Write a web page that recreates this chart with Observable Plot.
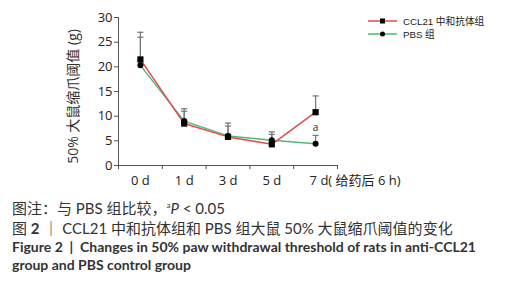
<!DOCTYPE html>
<html><head><meta charset="utf-8">
<script src="https://cdn.jsdelivr.net/npm/d3@7"></script>
<script src="https://cdn.jsdelivr.net/npm/@observablehq/plot@0.6"></script>
<style>
body{margin:0;background:#fff;font-family:"Open Sans","Noto Sans CJK SC",sans-serif;}
#wrap{position:relative;width:506px;height:282px;}
#legend{position:absolute;left:368px;top:14px;font-size:9.7px;color:#222;font-family:"Liberation Sans","Noto Sans CJK SC",sans-serif;}
#legend div{display:flex;align-items:center;height:13px;}
#legend svg{margin-right:6px;}
#cap{position:absolute;left:12px;top:196px;color:#333;font-family:"Lato","Noto Sans CJK SC",sans-serif;white-space:nowrap;}
#cap .c{font-size:15px;line-height:19.5px;}
#cap .b{font-weight:bold;font-size:14px;line-height:17.5px;}
</style></head><body>
<div id="wrap">
<div id="chart"></div>
<div id="legend">
<div><svg width="29" height="8"><line x1="0" y1="4" x2="29" y2="4" stroke="#e8474b" stroke-width="1.5"/><rect x="12" y="1.5" width="5" height="5" fill="#000"/></svg>CCL21 中和抗体组</div>
<div><svg width="29" height="8"><line x1="0" y1="4" x2="29" y2="4" stroke="#4cbb78" stroke-width="1.5"/><circle cx="14.5" cy="4" r="2.5" fill="#000"/></svg>PBS 组</div>
</div>
<div id="cap">
<div class="c">图注：与 PBS 组比较，<sup style="font-size:8px">a</sup><i>P</i> &lt; 0.05</div>
<div class="c">图 <b>2</b> ｜ CCL21 中和抗体组和 PBS 组大鼠 50% 大鼠缩爪阈值的变化</div>
<div class="b">Figure 2 &nbsp;|&nbsp; Changes in 50% paw withdrawal threshold of rats in anti-CCL21</div>
<div class="b">group and PBS control group</div>
</div>
</div>
<script>
const days = ["0 d", "1 d", "3 d", "5 d", "7 d"];
const dayLabels = ["0 d", "1 d", "3 d", "5 d", "7 d( 给药后 6 h)"];
const ccl21Mean = [21.5, 8.5, 5.8, 4.3, 10.8];
const ccl21Upper = [27.0, 11.5, 8.6, 6.8, 14.1];
const pbsMean = [20.3, 9.0, 6.0, 5.1, 4.4];
const pbsUpper = [26.0, 11.0, 8.0, 6.3, 6.1];
const yTicks = [0, 5, 10, 15, 20, 25, 30];
const sigMark = [{day: "7 d", y: 7.7, text: "a"}];

const idx = d => days.indexOf(d) + 0.5;
const ccl = days.map((d, i) => ({x: i + 0.5, y: ccl21Mean[i], up: ccl21Upper[i]}));
const pbs = days.map((d, i) => ({x: i + 0.5, y: pbsMean[i], up: pbsUpper[i]}));
const bars = [...ccl, ...pbs];
const bounds = d3.range(days.length + 1);
const labels = dayLabels.map((t, i) => ({x: i + 0.5, t}));

const chart = Plot.plot({
  width: 506, height: 195,
  marginLeft: 118, marginRight: 169, marginTop: 17, marginBottom: 30,
  style: {fontFamily: "Open Sans, Noto Sans CJK SC, sans-serif", fontSize: "13px", color: "#222", overflow: "visible"},
  x: {domain: [0, days.length], axis: null},
  y: {domain: [0, 30], axis: null},
  marks: [
    Plot.axisY({ticks: yTicks, tickSize: 4, tickPadding: 2, fontSize: 13, label: null, stroke: "#555"}),
    Plot.ruleX([0], {stroke: "#555"}),
    Plot.ruleY([0], {stroke: "#555"}),
    Plot.ruleX(bounds, {x: d => d, y1: 0, y2: 0, insetBottom: -4, stroke: "#555"}),
    Plot.text(labels.slice(0, 4), {x: "x", text: "t", frameAnchor: "bottom", dy: 19, fontSize: 13}),
    Plot.text(labels.slice(4), {x: "x", text: "t", frameAnchor: "bottom", dy: 19, dx: -6, textAnchor: "start", fontSize: 13}),
    Plot.text(["50% 大鼠缩爪阈值 (g)"], {frameAnchor: "left", textAnchor: "middle", rotate: -90, dx: -45, dy: 5, fontSize: 14, fill: "#333"}),
    Plot.ruleX(bars, {x: "x", y1: "y", y2: "up", stroke: "#777", strokeWidth: 1.2}),
    Plot.link(bars, {x1: d => d.x - 0.07, x2: d => d.x + 0.07, y1: "up", y2: "up", stroke: "#777", strokeWidth: 1.2}),
    Plot.line(pbs, {x: "x", y: "y", stroke: "#4cbb78", strokeWidth: 1.5}),
    Plot.line(ccl, {x: "x", y: "y", stroke: "#e8474b", strokeWidth: 1.5}),
    Plot.dot(pbs, {x: "x", y: "y", r: 3, fill: "#000"}),
    Plot.dot(ccl, {x: "x", y: "y", symbol: "square", r: 3.5, fill: "#000"}),
    Plot.text(sigMark, {x: d => idx(d.day), y: "y", text: "text", fontSize: 10, fill: "#222"})
  ]
});
document.getElementById("chart").appendChild(chart);
</script>
</body></html>
